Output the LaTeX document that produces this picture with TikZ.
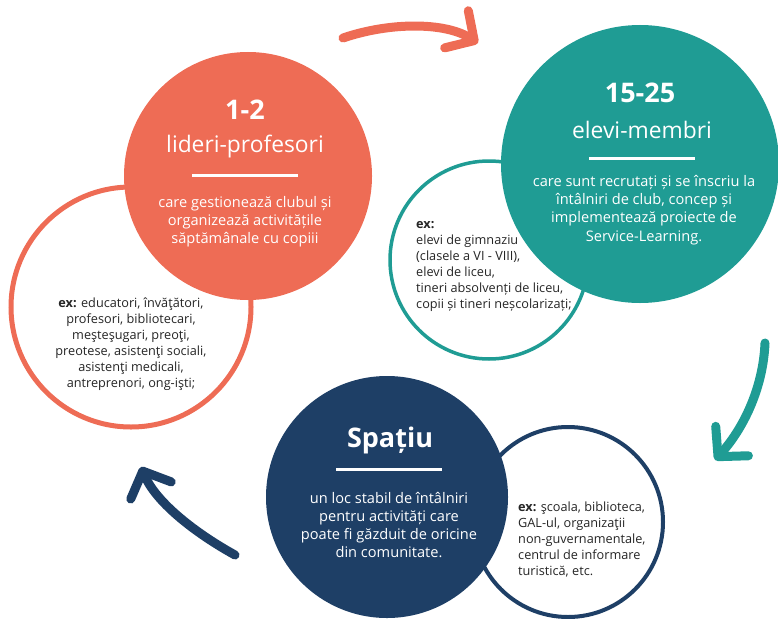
\documentclass[tikz,border=0pt]{standalone}
\usepackage{fontspec}
\setmainfont{Open Sans}
\usetikzlibrary{arrows.meta}
\definecolor{coral}{HTML}{EE6C55}
\definecolor{clubteal}{HTML}{1F9C94}
\definecolor{navy}{HTML}{1E3F66}

\begin{document}
\begin{tikzpicture}[x=1pt,y=-1pt,
		disc/.style={circle,fill=#1,inner sep=0pt},
		ring/.style={circle,draw=#1,fill=white,inner sep=0pt},
		rulebar/.style={rectangle,fill=white,inner sep=0pt,minimum width=106pt,minimum height=3pt},
		bignum/.style={text=white,font=\bfseries\fontsize{27}{30}\selectfont},
		rolename/.style={text=white,font=\fontsize{22.8}{26}\selectfont},
		blurb/.style={text=white,align=center,font=\fontsize{14.6}{18.2}\selectfont},
		exlist/.style={text=black!85,inner sep=0pt,font=\fontsize{12.7}{16}\selectfont},
		turn/.style={line width=9pt,line cap=round,-{Straight Barb[length=21pt,width=44pt,round]}}]
		\useasboundingbox (0,0) rectangle (778,618);

		\node [ring=coral,line width=5pt,minimum size=240pt] (oring) at (131,307) {};
		\node [ring=clubteal,line width=3.5pt,minimum size=198pt] (tring) at (489,260) {};
		\node [ring=navy,line width=4pt,minimum size=190pt] (nring) at (568,522) {};
		\node [disc=coral,minimum size=248pt] (odisc) at (248,176) {};
		\node [disc=clubteal,minimum size=278pt] (tdisc) at (640,164) {};
		\node [disc=navy,minimum size=242pt] (ndisc) at (387,497) {};

		\node [bignum] (onum) at (245,110) {1-2};
		\node [rolename] (orole) at (245,147) {lideri-profesori};
		\node [rulebar] (orule) at (245,175) {};
		\node [blurb] (otext) at (245,222) {care gestionează clubul și\\organizează activitățile\\săptămânale cu copiii};

		\node [bignum] (tnum) at (640,93) {15-25};
		\node [rolename] (trole) at (642,130) {elevi-membri};
		\node [rulebar] (trule) at (642,158) {};
		\node [blurb] (ttext) at (644,210) {care sunt recrutați și se înscriu la\\întâlniri de club, concep și\\implementează proiecte de\\Service-Learning.};

		\node [bignum] (nnum) at (390,440) {Spațiu};
		\node [rulebar] (nrule) at (389,469) {};
		\node [blurb] (ntext) at (389,525) {un loc stabil de întâlniri\\pentru activități care\\poate fi găzduit de oricine\\din comunitate.};

		\node [exlist,align=center] (otypes) at (131,344) {\textbf{ex:} educatori, învăţători,\\profesori, bibliotecari,\\meşteşugari, preoţi,\\preotese, asistenţi sociali,\\asistenţi medicali,\\antreprenori, ong-işti;};
		\node [exlist,align=left,anchor=west] (ttypes) at (416,266) {\textbf{ex:}\\elevi de gimnaziu\\(clasele a VI - VIII),\\elevi de liceu,\\tineri absolvenți de liceu,\\copii și tineri neșcolarizați;};
		\node [exlist,align=left,anchor=west] (ntypes) at (518,539) {\textbf{ex:} şcoala, biblioteca,\\GAL-ul, organizaţii\\non-guvernamentale,\\centrul de informare\\turistică, etc.};

		\coordinate (ostart) at (343,38);
		\coordinate (oend) at (478,43);
		\coordinate (tstart) at (765,343);
		\coordinate (tend) at (715,460);
		\coordinate (nstart) at (235,555);
		\coordinate (nend) at (141,467);
		\draw [turn,coral] (ostart) .. controls (390,22) and (445,22) .. (oend);
		\draw [turn,clubteal] (tstart) .. controls (763,390) and (742,430) .. (tend);
		\draw [turn,navy] (nstart) .. controls (190,530) and (155,500) .. (nend);
	\end{tikzpicture}
\end{document}
